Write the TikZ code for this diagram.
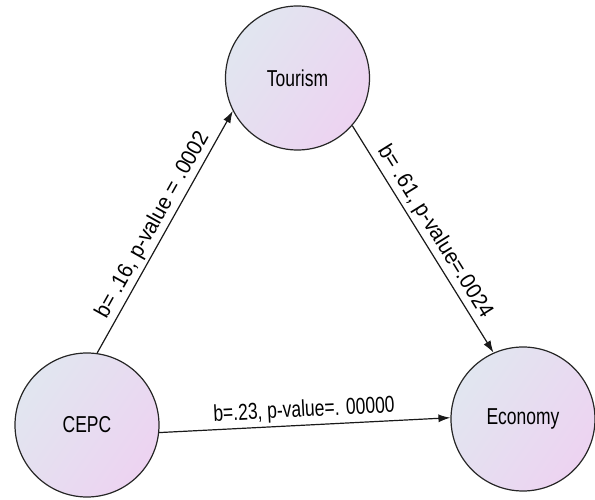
\documentclass[tikz,border=0pt]{standalone}
\usepackage{fontspec}
\setmainfont{Liberation Sans}[FakeStretch=0.76]
\newfontfamily\steepfont{Liberation Sans}[FakeStretch=0.93]
\usetikzlibrary{arrows.meta}
\definecolor{shadeA}{HTML}{E1E6F0}
\definecolor{shadeB}{HTML}{EDD3F1}
\begin{document}
\begin{tikzpicture}[x=1pt,y=1pt,
  construct/.style={circle, draw=black!85, line width=1.2pt, minimum size=144pt, inner sep=0pt,
    left color=shadeA, right color=shadeB, shading angle=55,
    font=\fontsize{23}{25}\selectfont},
  path/.style={draw=black!90, line width=1.2pt, -{Latex[length=12pt,width=8pt]}},
  coef/.style={font=\fontsize{23}{25}\selectfont, sloped, above, inner sep=3pt},
  steepcoef/.style={coef, font=\steepfont\fontsize{22}{24}\selectfont}]
  \useasboundingbox (0,0) rectangle (595,500);
  \node[construct] (tour) at (297.5,422) {Tourism};
  \node[construct] (cepc) at (87,75) {CEPC};
  \node[construct] (econ) at (523,81) {Economy};
  \draw[path] (cepc.82) -- node[steepcoef] {b= .16, p-value = .0002} (tour.207);
  \draw[path] (tour.319) -- node[steepcoef] {b= .61, p-value=.0024} (econ.114);
  \draw[path] (cepc.-6) -- node[coef] {b=.23, p-value=. 00000} (econ.179);
\end{tikzpicture}
\end{document}
